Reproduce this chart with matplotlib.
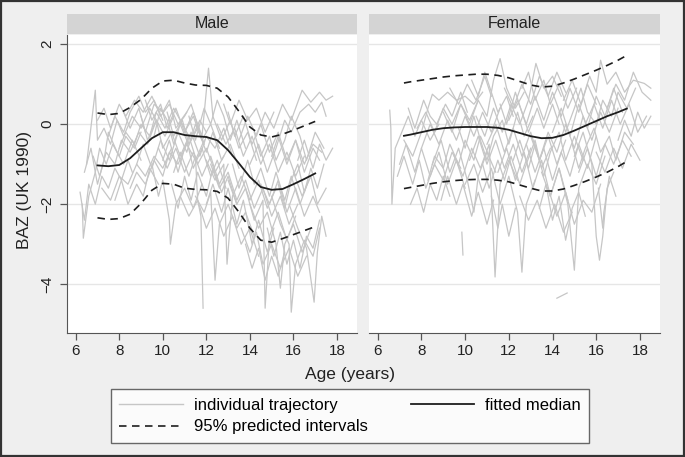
import matplotlib
matplotlib.use("Agg")
import matplotlib.pyplot as plt
from matplotlib.lines import Line2D
from matplotlib.patches import Rectangle

plt.rcParams["font.family"] = ["Liberation Sans", "DejaVu Sans"]

# fitted curves (age, BAZ)
male_fit_age = [7.0, 7.5, 8.0, 8.5, 9.0, 9.5, 10.0, 10.5, 11.0, 11.5, 12.0,
                12.5, 13.0, 13.5, 14.0, 14.5, 15.0, 15.5, 16.0, 16.5, 17.0]
male_median = [-1.03, -1.05, -1.02, -0.85, -0.6, -0.35, -0.2, -0.2, -0.27, -0.3, -0.32,
               -0.4, -0.65, -0.98, -1.32, -1.57, -1.64, -1.62, -1.5, -1.37, -1.23]
male_upper = [0.28, 0.24, 0.27, 0.42, 0.62, 0.9, 1.08, 1.1, 1.03, 0.98, 0.97,
              0.9, 0.68, 0.32, -0.07, -0.27, -0.32, -0.25, -0.15, -0.04, 0.07]
male_lower = [-2.34, -2.38, -2.36, -2.25, -1.98, -1.65, -1.48, -1.5, -1.6, -1.63, -1.64,
              -1.68, -1.85, -2.2, -2.6, -2.9, -2.95, -2.86, -2.76, -2.66, -2.56]

female_fit_age = [7.2, 7.5, 8.0, 8.5, 9.0, 9.5, 10.0, 10.5, 11.0, 11.5, 12.0,
                  12.5, 13.0, 13.5, 14.0, 14.5, 15.0, 15.5, 16.0, 16.5, 17.0, 17.4]
female_median = [-0.29, -0.26, -0.2, -0.14, -0.1, -0.08, -0.07, -0.07, -0.07, -0.09, -0.14,
                 -0.22, -0.3, -0.35, -0.34, -0.27, -0.16, -0.04, 0.08, 0.2, 0.3, 0.39]
female_upper = [1.03, 1.06, 1.1, 1.14, 1.18, 1.21, 1.23, 1.25, 1.25, 1.22, 1.16,
                1.07, 0.98, 0.93, 0.95, 1.03, 1.13, 1.24, 1.35, 1.47, 1.6, 1.72]
female_lower = [-1.61, -1.58, -1.53, -1.48, -1.44, -1.41, -1.39, -1.38, -1.38, -1.4, -1.44,
                -1.52, -1.6, -1.67, -1.67, -1.62, -1.53, -1.43, -1.32, -1.2, -1.06, -0.93]

# individual trajectories, (age, BAZ) pairs, rough reading of the gray lines
male_trajectories = [
    [(6.2, -1.7), (6.4, -2.4), (6.6, -1.5), (6.9, -2.0), (7.2, -1.3), (7.5, -1.6), (7.8, -1.1), (8.1, -1.4), (8.4, -0.9), (8.6, -1.2)],
    [(6.3, -2.0), (6.35, -2.85), (6.6, -1.8), (6.9, -1.2), (7.1, -0.6), (7.4, -1.0), (7.7, -0.5), (8.0, -0.8), (8.3, -0.3), (8.7, -0.6), (9.0, -0.2)],
    [(6.5, -1.0), (6.9, 0.85), (7.0, -0.4), (7.3, -0.1), (7.6, -0.5), (7.9, 0.1), (8.2, -0.3), (8.6, 0.2), (9.0, -0.1), (9.4, 0.4), (9.8, 0.0)],
    [(6.8, -0.8), (7.1, -1.3), (7.4, -0.7), (7.8, -1.0), (8.1, -0.4), (8.5, -0.7), (8.9, -0.2), (9.3, -0.5), (9.7, 0.1), (10.1, -0.3), (10.5, 0.2)],
    [(7.0, 0.1), (7.3, 0.4), (7.6, -0.1), (8.0, 0.5), (8.3, 0.2), (8.7, 0.6), (9.1, 0.3), (9.5, 0.7), (9.9, 0.2), (10.3, 0.5), (10.7, 0.0), (11.1, 0.3)],
    [(7.2, -1.6), (7.6, -1.9), (8.0, -1.3), (8.4, -1.5), (8.8, -1.0), (9.2, -1.3), (9.6, -0.8), (10.0, -1.1), (10.4, -0.6)],
    [(8.0, -0.6), (8.3, -0.2), (8.7, -0.5), (9.0, 0.0), (9.4, -0.3), (9.7, 0.3), (10.1, -0.1), (10.5, 0.4), (10.9, 0.0), (11.3, -0.4), (11.7, 0.1), (12.0, -0.2)],
    [(8.5, -1.6), (8.8, -1.2), (9.2, -1.5), (9.6, -0.9), (10.0, -1.3), (10.3, -0.7), (10.7, -1.0), (11.1, -0.5), (11.5, -0.9), (11.9, -0.4)],
    [(9.0, 0.2), (9.3, -0.4), (9.7, 0.1), (10.0, -0.6), (10.4, -0.2), (10.8, -0.8), (11.2, -0.3), (11.6, -1.0), (12.0, -0.6), (12.4, -1.2), (12.8, -0.8)],
    [(9.5, -1.0), (9.8, -1.8), (10.0, -1.4), (10.3, -2.4), (10.35, -3.0), (10.6, -2.0), (11.0, -1.6), (11.4, -2.1), (11.8, -1.5)],
    [(10.2, 0.3), (10.5, -0.3), (10.9, 0.1), (11.2, -0.5), (11.6, -0.1), (12.0, -0.7), (12.3, -0.2), (12.7, -0.9), (13.1, -0.5), (13.5, -1.1)],
    [(10.5, -1.2), (10.8, -0.7), (11.2, -1.3), (11.5, -0.8), (11.6, -1.9), (11.75, -2.3), (11.85, -4.6)],
    [(11.0, -0.2), (11.4, 0.3), (11.8, -0.3), (12.1, 1.4), (12.3, 0.2), (12.7, -0.4), (13.1, 0.1), (13.5, -0.6), (13.9, -0.2), (14.3, -0.9)],
    [(11.5, -1.8), (11.9, -2.2), (12.2, -1.7), (12.4, -3.9), (12.6, -2.5), (13.0, -2.0), (13.4, -2.6), (13.8, -2.2), (14.2, -2.8)],
    [(12.0, -0.9), (12.4, -1.4), (12.8, -1.0), (12.95, -3.5), (13.2, -1.8), (13.6, -1.3), (14.0, -1.9), (14.4, -1.4), (14.8, -2.1), (15.2, -1.6)],
    [(12.5, 0.0), (12.9, -0.5), (13.3, -0.1), (13.7, -0.8), (14.1, -0.3), (14.5, -1.0), (14.9, -0.5), (15.3, -1.2), (15.7, -0.7), (16.1, -1.3), (16.5, -0.8)],
    [(13.0, -1.4), (13.4, -2.0), (13.8, -1.6), (14.2, -2.4), (14.6, -1.9), (14.7, -4.6), (14.9, -2.8), (15.3, -2.2), (15.7, -2.9), (16.1, -2.3)],
    [(13.5, -0.4), (13.9, 0.2), (14.3, -0.3), (14.7, 0.3), (15.1, -0.1), (15.5, 0.5), (15.9, 0.1), (16.4, 0.85), (16.8, 0.55), (17.2, 0.8), (17.5, 0.6), (17.8, 0.7)],
    [(14.0, -1.0), (14.4, -0.5), (14.8, -1.2), (15.2, -0.6), (15.6, 0.1), (15.9, -0.2), (16.3, 0.3), (16.7, 0.5), (17.0, 0.3), (17.3, 0.55), (17.5, 0.2)],
    [(14.0, -2.0), (14.4, -2.6), (14.8, -2.2), (15.2, -3.0), (15.4, -4.1), (15.6, -3.0), (16.0, -2.5), (16.4, -3.2), (16.8, -2.6)],
    [(15.0, -1.8), (15.4, -2.5), (15.8, -3.0), (15.9, -4.7), (16.1, -3.5), (16.5, -2.9), (16.9, -3.3), (17.2, -2.6)],
    [(15.8, -2.0), (16.2, -2.6), (16.6, -3.1), (16.95, -4.45), (17.1, -3.2), (17.3, -2.3), (17.5, -2.8)],
    [(13.0, 0.3), (13.3, -0.3), (13.7, 0.2), (14.1, -0.5), (14.5, 0.0), (14.9, -0.7), (15.3, -0.2), (15.7, -0.9), (16.1, -0.4), (16.5, -1.0), (16.9, -0.5), (17.3, -0.7)],
    [(9.2, 0.6), (9.5, 0.1), (9.9, 0.5), (10.2, -0.1), (10.6, 0.4), (11.0, -0.2), (11.4, 0.2), (11.8, -0.4), (12.2, 0.0), (12.6, -0.6)],
    [(7.5, -0.3), (7.8, 0.2), (8.2, -0.2), (8.5, 0.3), (8.9, 0.7), (9.2, 0.3), (9.6, 0.6), (10.0, 0.1)],
    [(14.5, -1.5), (14.9, -2.0), (15.3, -1.4), (15.7, -2.2), (16.1, -1.6), (16.5, -2.3), (16.9, -1.8), (17.2, -2.2)],
    [(10.8, -1.8), (11.2, -2.3), (11.6, -1.9), (12.0, -2.6), (12.4, -2.1), (12.8, -2.8), (13.2, -2.3), (13.6, -3.0), (14.0, -2.6), (14.4, -3.3)],
    [(12.2, -1.0), (12.6, -1.6), (13.0, -1.2), (13.4, -1.9), (13.8, -1.4), (14.2, -2.1), (14.6, -1.6), (15.0, -2.3), (15.4, -1.8), (15.8, -2.5), (16.2, -2.0)],
    [(9.8, -0.6), (10.2, -1.1), (10.6, -0.6), (11.0, -1.2), (11.4, -0.7), (11.8, -1.3), (12.2, -0.8), (12.6, -1.5), (13.0, -1.0)],
    [(8.8, -1.0), (9.1, -0.5), (9.5, -1.1), (9.9, -0.4), (10.3, -0.9), (10.7, -0.2), (11.1, -0.7), (11.5, 0.0), (11.9, -0.5)],
    [(15.0, -0.8), (15.3, -0.3), (15.7, -1.0), (16.1, -0.4), (16.5, -1.2), (16.9, -0.6), (17.2, -0.9)],
    [(16.0, -1.2), (16.4, -1.8), (16.8, -1.3), (17.1, -2.0), (17.5, -1.6)],
    [(13.6, -2.6), (14.0, -3.2), (14.3, -2.7), (14.6, -3.5), (15.0, -3.0), (15.4, -3.6), (15.8, -3.1), (16.2, -3.8), (16.6, -3.3)],
    [(12.8, 0.5), (13.1, 0.0), (13.5, 0.6), (13.9, 0.1), (14.3, 0.4), (14.7, -0.2), (15.1, 0.3)],
    [(6.4, -1.2), (6.7, -0.6), (7.0, -1.5), (7.3, -0.9), (7.5, -0.2), (7.9, -0.7), (8.2, -1.0), (8.6, -0.4), (9.0, -0.9)],
    [(8.2, 0.3), (8.5, -0.1), (8.9, 0.4), (9.2, -0.2), (9.6, 0.5), (10.0, 0.3), (10.3, 0.6), (10.6, -0.1), (11.0, 0.2), (11.3, 0.5), (11.7, -0.2)],
    [(9.6, -0.3), (9.9, 0.4), (10.2, 0.1), (10.5, -0.5), (10.8, 0.0), (11.1, -0.4), (11.4, -1.1), (11.8, -0.6), (12.2, -1.3), (12.5, -0.9), (12.9, -1.6)],
    [(10.0, -0.9), (10.3, -0.4), (10.7, -1.2), (11.0, -0.6), (11.3, -0.2), (11.7, -0.8), (12.0, -0.3), (12.4, -0.6), (12.8, -0.1), (13.2, -0.8)],
    [(11.2, 0.2), (11.5, -0.4), (11.9, 0.4), (12.2, 0.0), (12.5, 0.6), (12.8, 0.2), (13.1, -0.4), (13.4, 0.1), (13.8, -0.6)],
    [(12.0, -2.0), (12.3, -1.5), (12.7, -2.2), (13.0, -1.6), (13.4, -2.5), (13.7, -1.9), (14.1, -3.0), (14.4, -2.4), (14.8, -3.2), (15.1, -2.6)],
    [(13.2, -1.0), (13.5, -1.6), (13.9, -0.9), (14.2, -1.5), (14.5, -1.1), (14.9, -1.8), (15.2, -1.2), (15.6, -1.9), (15.9, -1.3), (16.3, -2.0), (16.7, -1.4)],
    [(14.2, -0.2), (14.5, -0.8), (14.9, -0.3), (15.2, -0.9), (15.6, -0.4), (15.9, 0.2), (16.3, -0.3), (16.6, -0.9), (17.0, -0.2), (17.4, -0.6)],
    [(14.8, -2.6), (15.1, -3.3), (15.4, -2.7), (15.7, -3.5), (16.0, -2.9), (16.3, -3.6), (16.6, -2.8), (16.9, -3.1), (17.2, -2.4)],
    [(15.3, -1.5), (15.6, -2.1), (15.9, -1.4), (16.2, -1.0), (16.5, -1.7), (16.8, -1.1), (17.1, -1.6), (17.4, -1.0)],
    [(7.8, -1.9), (8.1, -1.4), (8.4, -2.0), (8.8, -1.5), (9.1, -1.8), (9.4, -1.1), (9.8, -1.5)],
    [(10.4, -1.5), (10.7, -2.1), (11.0, -1.3), (11.3, -1.9), (11.6, -1.2), (12.0, -1.8), (12.3, -1.1), (12.7, -1.7), (13.0, -1.3), (13.4, -2.0)],
    [(13.8, -3.0), (14.1, -3.6), (14.4, -3.1), (14.7, -3.9), (15.0, -3.3), (15.3, -3.8), (15.6, -3.2)],
    [(16.2, -0.9), (16.5, -0.4), (16.9, -1.1), (17.2, -0.5), (17.5, -0.9), (17.8, -0.6)],
]

female_trajectories = [
    [(6.55, 0.35), (6.6, -0.1), (6.65, -2.0), (6.8, -0.6), (7.1, -0.2), (7.4, 0.2), (7.7, -0.3), (8.0, 0.1), (8.4, -0.4), (8.8, 0.0)],
    [(6.9, -1.3), (7.2, -0.8), (7.6, -1.5), (7.9, -0.9), (8.2, -1.6), (8.6, -1.0), (9.0, -1.4), (9.4, -0.7), (9.8, -1.1)],
    [(7.2, -0.4), (7.6, -0.8), (8.0, -0.2), (8.3, 0.4), (8.5, 0.75), (8.8, 0.6), (9.2, 0.8), (9.6, 0.6), (10.0, 0.7), (10.4, 0.5), (10.8, 0.8)],
    [(7.5, -2.0), (7.8, -1.6), (8.1, -2.2), (8.4, -1.5), (8.7, -1.9), (9.0, -1.3), (9.3, -1.8)],
    [(8.0, -0.6), (8.4, 0.0), (8.8, -0.5), (9.2, 0.1), (9.6, -0.4), (10.0, 0.2), (10.4, -0.3), (10.8, 0.3), (11.2, -0.2), (11.6, 0.4)],
    [(8.5, -1.0), (8.9, -0.4), (9.3, -1.2), (9.7, -0.6), (10.1, -1.4), (10.4, -2.2), (10.6, -1.3), (11.0, -0.7), (11.4, -1.2)],
    [(9.0, 0.3), (9.4, -0.2), (9.8, 0.5), (10.2, 0.0), (10.6, 0.6), (11.0, 0.2), (11.3, 1.1), (11.6, 1.64), (11.9, 0.9), (12.3, 0.4), (12.7, 0.8)],
    [(9.5, -0.8), (9.9, -1.3), (10.3, -0.6), (10.7, -1.1), (11.1, -0.5), (11.37, -3.82), (11.6, -1.5), (12.0, -0.9), (12.4, -1.4)],
    [(9.85, -2.7), (9.9, -3.27)],
    [(10.0, -1.5), (10.4, -1.0), (10.8, -1.7), (11.2, -1.1), (11.6, -2.0), (12.0, -1.3), (12.4, -2.2), (12.6, -3.7), (12.8, -2.0), (13.2, -1.4)],
    [(10.5, 0.2), (10.9, -0.3), (11.3, 0.4), (11.7, -0.2), (12.1, 0.5), (12.5, 0.0), (12.9, 0.6), (13.24, 1.52), (13.6, 0.9), (14.0, 1.2), (14.4, 0.7)],
    [(11.0, -0.5), (11.4, 0.0), (11.8, -0.7), (12.2, -0.1), (12.6, -0.8), (13.0, -0.2), (13.4, -0.9), (13.8, -0.3), (14.2, -1.0), (14.6, -0.4)],
    [(11.5, -1.2), (11.9, -0.6), (12.3, -1.4), (12.7, -0.7), (13.1, -1.6), (13.5, -0.9), (13.9, -1.8), (14.3, -1.1), (14.7, -1.9)],
    [(12.0, 0.1), (12.4, 0.6), (12.8, 0.0), (13.2, 0.7), (13.6, 0.1), (14.0, 0.8), (14.4, 0.2), (14.8, 0.9), (15.2, 0.3), (15.6, 1.0), (16.0, 0.5)],
    [(12.5, -1.8), (12.9, -2.4), (13.3, -1.9), (13.7, -2.6), (14.1, -2.0), (14.5, -2.7), (14.9, -2.2)],
    [(13.0, -0.3), (13.4, -0.9), (13.8, -0.2), (14.2, -0.7), (14.6, 0.0), (15.0, -0.6), (15.4, 0.2), (15.8, -0.4), (16.2, 0.3), (16.6, -0.2), (17.0, 0.4)],
    [(14.2, -4.35), (14.67, -4.22)],
    [(13.5, -1.2), (13.9, -1.8), (14.3, -1.1), (14.7, -2.0), (15.0, -3.65), (15.2, -1.6), (15.6, -1.0), (16.0, -1.5), (16.4, -0.8)],
    [(14.5, 0.6), (14.9, 1.1), (15.3, 0.5), (15.7, 1.2), (16.0, 0.8), (16.2, 1.6), (16.5, 1.0), (16.9, 1.3), (17.3, 0.8), (17.7, 1.1), (18.2, 1.02), (18.5, 0.9)],
    [(15.0, -0.8), (15.4, -0.2), (15.8, -1.0), (16.0, -2.8), (16.15, -3.4), (16.3, -2.8), (16.5, -1.6), (16.8, -1.2)],
    [(15.5, 0.0), (15.9, 0.5), (16.3, -0.1), (16.7, 0.6), (17.1, 0.0), (17.5, 0.5), (17.9, -0.2), (18.3, 0.2)],
    [(16.0, -0.7), (16.4, -1.2), (16.8, -0.6), (17.2, -1.1), (17.6, -0.5), (18.0, -0.9)],
    [(7.8, -0.1), (8.2, 0.3), (8.6, -0.2), (9.0, 0.4), (9.4, 0.0), (9.8, 0.5), (10.2, 0.1), (10.6, 0.6)],
    [(10.2, -0.9), (10.6, -0.3), (11.0, -1.0), (11.4, -0.4), (11.8, -1.1), (12.2, -0.5), (12.6, -1.2), (13.0, -0.6)],
    [(11.8, 0.9), (12.2, 0.4), (12.6, 1.0), (13.0, 0.5), (13.4, 1.2), (13.8, 0.7), (14.2, 1.3), (14.6, 0.8)],
    [(12.8, -0.5), (13.2, -1.2), (13.6, -0.6), (14.0, -1.4), (14.4, -0.7), (14.8, -1.3), (15.2, -0.5), (15.6, -1.1), (16.0, -0.3)],
    [(14.0, -0.2), (14.4, 0.4), (14.8, -0.3), (15.2, 0.5), (15.6, -0.1), (16.0, 0.7), (16.4, 0.2), (16.8, 0.9), (17.2, 0.3)],
    [(16.5, 0.4), (16.9, 1.0), (17.3, 0.6), (17.7, 1.3), (18.1, 0.8), (18.5, 0.6)],
    [(7.0, -1.0), (7.3, -0.5), (7.7, -1.2), (8.0, -0.6), (8.4, -1.3), (8.8, -0.7), (9.2, -1.5), (9.6, -0.9), (10.0, -1.6)],
    [(13.8, -1.6), (14.2, -2.3), (14.6, -1.7), (15.0, -2.5), (15.4, -1.9), (15.8, -2.2), (16.2, -1.5)],
    [(11.2, -1.8), (11.5, -2.6), (11.7, -2.0), (12.0, -2.8), (12.3, -2.1)],
    [(9.3, 0.9), (9.7, 0.5), (10.1, 1.0), (10.5, 0.6), (10.9, 1.2), (11.2, 0.7)],
    [(15.2, -1.2), (15.6, -0.6), (16.0, -1.3), (16.4, -0.5), (16.8, -1.0), (17.2, -0.4), (17.6, -0.8)],
    [(7.4, 0.4), (7.7, -0.1), (8.1, 0.6), (8.4, 0.2), (8.7, 0.0), (9.1, 0.5), (9.4, 0.2), (9.8, 0.8), (10.1, 0.3)],
    [(8.3, -1.4), (8.6, -0.8), (9.0, -1.1), (9.3, -0.5), (9.7, -1.0), (10.0, -0.4), (10.4, -0.9), (10.7, -0.3), (11.1, -0.8)],
    [(9.7, -0.1), (10.0, -0.6), (10.4, 0.2), (10.7, -0.4), (11.0, -0.9), (11.3, -0.3), (11.7, 0.1), (12.0, -0.5), (12.4, 0.3), (12.7, -0.3), (13.1, 0.2)],
    [(10.8, -1.0), (11.1, -1.6), (11.5, -0.9), (11.8, -1.4), (12.1, -0.8), (12.5, -1.5), (12.8, -1.0), (13.2, -0.4), (13.5, -1.1), (13.9, -0.6)],
    [(11.6, 0.5), (11.9, 0.0), (12.3, 0.8), (12.6, 0.3), (12.9, -0.2), (13.3, 0.4), (13.6, -0.1), (14.0, 0.5), (14.3, 0.0)],
    [(12.2, -0.9), (12.5, -0.4), (12.9, -1.1), (13.2, -0.5), (13.6, -1.3), (13.9, -0.7), (14.3, -0.2), (14.6, -0.9), (15.0, -0.3), (15.4, -0.9)],
    [(13.4, -2.1), (13.7, -1.5), (14.0, -2.4), (14.3, -1.8), (14.6, -2.9), (14.9, -2.1), (15.2, -1.7), (15.5, -2.3)],
    [(14.3, 0.3), (14.6, -0.2), (15.0, 0.4), (15.3, 0.9), (15.6, 0.3), (16.0, 0.0), (16.3, 0.6), (16.7, 0.2), (17.0, 0.8), (17.4, 0.4), (17.8, 0.9)],
    [(14.9, -0.5), (15.2, -1.1), (15.5, -0.6), (15.9, -0.1), (16.2, -0.7), (16.6, -0.3), (16.9, -0.9), (17.3, -0.2), (17.7, -0.5)],
    [(16.1, -1.6), (16.3, -2.6), (16.35, -2.2), (16.6, -1.3), (16.9, -1.8)],
    [(12.6, 0.9), (12.9, 1.3), (13.2, 0.6), (13.6, 1.1), (13.9, 0.5), (14.3, 1.0), (14.7, 0.4), (15.1, 0.9)],
    [(10.3, 1.1), (10.6, 0.7), (10.9, 1.3), (11.2, 0.8), (11.5, 0.3), (11.9, 0.7), (12.2, 0.2)],
    [(8.9, -1.9), (9.2, -1.3), (9.6, -2.0), (9.9, -1.5), (10.3, -2.3), (10.6, -1.7), (11.0, -2.5), (11.3, -1.9)],
    [(17.0, -0.4), (17.3, 0.1), (17.6, -0.3), (17.9, 0.3), (18.2, -0.1), (18.5, 0.2)],
]

panels = ["Male", "Female"]
x_ticks = [6, 8, 10, 12, 14, 16, 18]
y_ticks = [-4, -2, 0, 2]

BG = "#efefef"
TRAJ = "#c6c6c6"
INK = "#1e1e1e"
DASH = (4.5, 3.3)

fig = plt.figure(figsize=(6.85, 4.57), dpi=100, facecolor=BG)
fig.patches.append(Rectangle((0.002, 0.003), 0.996, 0.994, transform=fig.transFigure,
                             fill=False, edgecolor="#333333", linewidth=1.6))

W, H = 685.0, 457.0
panel_px = [(67, 290), (369, 291)]
data = [
    (male_trajectories, male_fit_age, male_median, male_upper, male_lower),
    (female_trajectories, female_fit_age, female_median, female_upper, female_lower),
]

for i, (title, (x0, w)) in enumerate(zip(panels, panel_px)):
    trajs, fit_age, med, up, lo = data[i]
    ax = fig.add_axes([x0 / W, (H - 333) / H, w / W, 298 / H], facecolor="white")
    for tr in trajs:
        ax.plot([p[0] for p in tr], [p[1] for p in tr], color=TRAJ, lw=0.9, zorder=2)
    ax.plot(fit_age, med, color=INK, lw=1.3, zorder=4)
    ax.plot(fit_age, up, color=INK, lw=1.2, dashes=DASH, zorder=4)
    ax.plot(fit_age, lo, color=INK, lw=1.2, dashes=DASH, zorder=4)

    ax.set_xlim(5.6, 18.92)
    ax.set_ylim(-5.22, 2.23)
    ax.set_xticks(x_ticks)
    ax.set_yticks(y_ticks)
    for y in y_ticks:
        ax.axhline(y, color="#e6e6e6", lw=1.0, zorder=1)
    for s in ["top", "right"]:
        ax.spines[s].set_visible(False)
    ax.spines["bottom"].set_color("#555555")
    ax.spines["left"].set_color("#555555")
    ax.tick_params(axis="x", length=5, width=0.9, color="#555555", labelsize=11, pad=3,
                   labelcolor="#222222")
    if i == 0:
        ax.tick_params(axis="y", length=5, width=0.9, color="#555555", labelsize=11, pad=4,
                       labelcolor="#222222")
        for lab in ax.get_yticklabels():
            lab.set_rotation(90)
            lab.set_va("center")
    else:
        ax.spines["left"].set_visible(False)
        ax.tick_params(axis="y", left=False, labelleft=False)

    strip = fig.add_axes([x0 / W, (H - 34) / H, w / W, 20 / H], facecolor="#d4d4d4")
    strip.set_xticks([])
    strip.set_yticks([])
    for s in strip.spines.values():
        s.set_visible(False)
    strip.text(0.5, 0.5, title, ha="center", va="center", fontsize=11.5, color="#222222",
               transform=strip.transAxes)

fig.text(24 / W, 1 - 190 / H, "BAZ (UK 1990)", rotation=90, ha="center", va="center",
         fontsize=12.5, color="#222222")
fig.text(350 / W, 1 - 374 / H, "Age (years)", ha="center", va="center", fontsize=12.5,
         color="#222222")

handles = [
    Line2D([], [], color=TRAJ, lw=1.0),
    Line2D([], [], color=INK, lw=1.2, dashes=DASH),
    Line2D([], [], color=INK, lw=1.3),
]
labels = ["individual trajectory", "95% predicted intervals", "fitted median"]
leg = fig.legend(handles, labels, ncol=2, loc="center", bbox_to_anchor=(350 / W, 1 - 416 / H),
                 fontsize=12, frameon=True, fancybox=False, handlelength=3.8,
                 handletextpad=0.65, columnspacing=2.6, labelspacing=0.4, borderpad=0.5)
leg.get_frame().set_edgecolor("#444444")
leg.get_frame().set_linewidth(1.0)

fig.savefig("out.png", dpi=100, facecolor=BG)
